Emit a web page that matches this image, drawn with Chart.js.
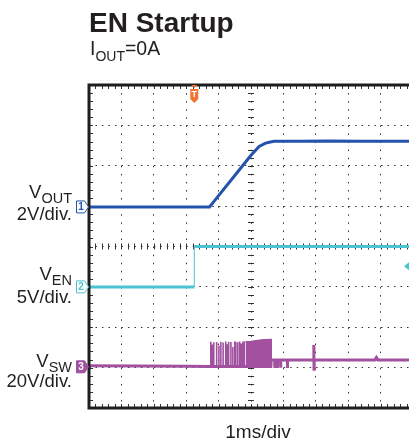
<!DOCTYPE html>
<html lang="en">
<head>
<meta charset="UTF-8">
<title>EN Startup</title>
<script src="https://cdn.jsdelivr.net/npm/chart.js"></script>
<style>
    body { margin: 0; width: 409px; height: 443px; overflow: hidden; position: relative; background: #fff;
           font-family: "Liberation Sans", Arial, Helvetica, sans-serif; color: #231f20; }
    #scope { position: absolute; left: 0; top: 0; }
    .txt { position: absolute; line-height: 1; white-space: nowrap; }
    .lbl { right: 337px; text-align: right; font-size: 18.5px; }
    .sub { position: relative; top: 4.5px; font-size: 14.5px; }
</style>
</head>
<body>

<canvas id="scope" width="416" height="443"></canvas>

<div class="txt" style="left:89px; top:8.8px; font-size:28px; font-weight:bold;">EN Startup</div>
<div class="txt" style="left:90px; top:39px; font-size:19.5px;">I<span class="sub" style="font-size:14px; top:5.5px;">OUT</span>=0A</div>

<div class="txt lbl" style="top:183.3px;">V<span class="sub">OUT</span></div>
<div class="txt lbl" style="top:205.3px;">2V/div.</div>
<div class="txt lbl" style="top:265.3px;">V<span class="sub">EN</span></div>
<div class="txt lbl" style="top:288.3px;">5V/div.</div>
<div class="txt lbl" style="top:352.3px;">V<span class="sub">SW</span></div>
<div class="txt lbl" style="top:372.3px;">20V/div.</div>

<div class="txt" style="left:158px; width:200px; text-align:center; top:422px; font-size:19px;">1ms/div</div>

<script>
    // screen: 10 div across (1 ms/div), 8 div high; y values below are in volts
    const triggerTime = 3.25;

    // channel 1: VOUT, 2 V/div
    const vOutOffset = 4.98;
    const vOutScale = 2;
    const vOutTime  = [0, 3.72, 4.0, 4.5, 5.0, 5.25, 5.45, 5.6, 5.72, 6.5, 7.4, 8.4, 10];
    const vOutVolts = [0, 0, 0.56, 1.56, 2.56, 3.0, 3.16, 3.22, 3.25, 3.25, 3.27, 3.25, 3.25];

    // channel 2: VEN, 5 V/div
    const vEnOffset = 3.0;
    const vEnScale = 5;
    const vEnTime  = [0, 3.25, 3.25, 10];
    const vEnVolts = [0, 0, 5, 5];
    const vEnTrigLevel = 2.55;

    // channel 3: VSW, 20 V/div
    const vSwOffset = 1.02;
    const vSwScale = 20;
    const vSwTime  = [0, 1.5, 3.0, 3.76, 5.65, 5.65, 5.73, 5.735, 5.74, 5.81, 5.815, 5.82, 5.91, 5.915, 5.92,
                      6.12, 6.125, 6.13, 6.93, 6.94, 6.945, 6.95, 8.82, 8.87, 8.92, 10];
    const vSwVolts = [0.5, 0.4, 0.3, 0.2, 0.2, 3.4, 3.4, -0.6, 3.4, 3.4, -0.6, 3.4, 3.4, -0.4, 3.4,
                      3.4, -0.6, 3.4, 3.4, 10.8, -1.2, 3.4, 3.4, 4.6, 3.4, 3.4];
    // first switching pulses, one by one
    const swPulseTime = [3.76, 3.81, 3.85, 3.94, 4.01, 4.07, 4.14, 4.22, 4.27, 4.31, 4.38, 4.44, 4.50, 4.53,
                         4.59, 4.65, 4.70, 4.75, 4.79];
    const swPulsePeak = [12.4, 11.0, 12.2, 12.3, 10.5, 12.4, 12.0, 12.5, 11.2, 12.4, 12.3, 9.8, 12.5, 12.4,
                         12.2, 12.5, 11.5, 12.6, 12.5];
    // dense switching: envelope of the burst
    const swBurstTime = [4.83, 5.0, 5.2, 5.4, 5.65];
    const swBurstPeak = [12.4, 12.6, 13.0, 13.4, 13.5];
    const swBurstFloor = -0.6;

    const trace = (times, volts, offset, scale) =>
        times.map((t, i) => ({ x: t, y: offset + volts[i] / scale }));

    const pulsePoints = [];
    swPulseTime.forEach((t, i) => {
        pulsePoints.push({ x: t, y: vSwOffset + swBurstFloor / vSwScale });
        pulsePoints.push({ x: t, y: vSwOffset + swPulsePeak[i] / vSwScale });
        pulsePoints.push({ x: t, y: null });
    });

    const blue = '#2353ad', cyan = '#4cc3d1', purple = '#a1519f', orange = '#f07433';

    const graticule = {
        id: 'graticule',
        beforeDatasetsDraw(chart) {
            const { ctx, chartArea: a, scales: { x, y } } = chart;
            const cx = x.getPixelForValue(5), cy = y.getPixelForValue(4);
            ctx.save();
            ctx.lineWidth = 1;
            ctx.strokeStyle = '#333';
            ctx.beginPath();
            for (let i = 0; i <= 50; i++) {
                const px = Math.round(x.getPixelForValue(i / 5)) + 0.5;
                ctx.moveTo(px, cy - 3); ctx.lineTo(px, cy + 3);
                ctx.moveTo(px, a.top); ctx.lineTo(px, a.top + 4);
                ctx.moveTo(px, a.bottom); ctx.lineTo(px, a.bottom - 4);
            }
            for (let j = 0; j <= 40; j++) {
                const py = Math.round(y.getPixelForValue(j / 5)) + 0.5;
                ctx.moveTo(cx - 3, py); ctx.lineTo(cx + 3, py);
                ctx.moveTo(a.left, py); ctx.lineTo(a.left + 4, py);
            }
            ctx.stroke();
            ctx.restore();
        },
        afterDraw(chart) {
            const { ctx, chartArea: a, scales: { x, y } } = chart;
            ctx.save();
            ctx.lineWidth = 3;
            ctx.strokeStyle = '#1e1e1e';
            ctx.strokeRect(a.left, a.top, a.right - a.left, a.bottom - a.top);

            // channel markers on the left
            const marker = (num, yv, color, filled) => {
                const py = y.getPixelForValue(yv);
                ctx.beginPath();
                ctx.moveTo(76.5, py - 6); ctx.lineTo(84.5, py - 6); ctx.lineTo(88.5, py);
                ctx.lineTo(84.5, py + 6); ctx.lineTo(76.5, py + 6); ctx.closePath();
                ctx.fillStyle = filled ? color : '#fff';
                ctx.fill();
                ctx.lineWidth = 1;
                ctx.strokeStyle = color;
                ctx.stroke();
                ctx.fillStyle = filled ? '#fff' : color;
                ctx.font = 'bold 10px "Liberation Sans", Arial';
                ctx.textAlign = 'center';
                ctx.textBaseline = 'middle';
                ctx.fillText(num, 81, py + 0.5);
            };
            marker('1', vOutOffset, blue, false);
            marker('2', vEnOffset, cyan, false);
            marker('3', vSwOffset, purple, true);

            // trigger position
            const tx = x.getPixelForValue(triggerTime);
            ctx.fillStyle = orange;
            ctx.beginPath();
            ctx.moveTo(tx - 3, a.top); ctx.lineTo(tx + 3, a.top); ctx.lineTo(tx, a.top + 3); ctx.closePath();
            ctx.fill();
            ctx.beginPath();
            ctx.moveTo(tx - 4, a.top + 4); ctx.lineTo(tx + 4, a.top + 4); ctx.lineTo(tx + 4, a.top + 14);
            ctx.lineTo(tx, a.top + 18); ctx.lineTo(tx - 4, a.top + 14); ctx.closePath();
            ctx.fill();
            ctx.fillStyle = '#fff';
            ctx.font = 'bold 9px "Liberation Sans", Arial';
            ctx.textAlign = 'center';
            ctx.textBaseline = 'middle';
            ctx.fillText('T', tx, a.top + 10);

            // trigger level, channel 2
            const ly = y.getPixelForValue(vEnOffset + vEnTrigLevel / vEnScale);
            ctx.fillStyle = cyan;
            ctx.beginPath();
            ctx.moveTo(404, ly); ctx.lineTo(409, ly - 4); ctx.lineTo(409, ly + 4); ctx.closePath();
            ctx.fill();
            ctx.restore();
        }
    };

    // fast edges are drawn thin, like on the scope screen
    const thinEdge = ctx => ctx.p0.parsed.x === ctx.p1.parsed.x ? 1 : undefined;

    new Chart(document.getElementById('scope'), {
        type: 'line',
        data: {
            datasets: [
                { label: 'VSW burst', data: trace(swBurstTime, swBurstPeak, vSwOffset, vSwScale),
                  borderColor: purple, backgroundColor: purple, borderWidth: 1.5,
                  fill: { value: vSwOffset + swBurstFloor / vSwScale } },
                { label: 'VSW pulses', data: pulsePoints, borderColor: purple, borderWidth: 1.6, spanGaps: false },
                { label: 'VSW', data: trace(vSwTime, vSwVolts, vSwOffset, vSwScale), borderColor: purple, borderWidth: 3,
                  segment: { borderWidth: thinEdge } },
                { label: 'VEN', data: trace(vEnTime, vEnVolts, vEnOffset, vEnScale), borderColor: cyan, borderWidth: 3,
                  segment: { borderWidth: thinEdge } },
                { label: 'VOUT', data: trace(vOutTime, vOutVolts, vOutOffset, vOutScale), borderColor: blue, borderWidth: 3 }
            ]
        },
        options: {
            responsive: false,
            animation: false,
            devicePixelRatio: 1,
            layout: { padding: { left: 89, top: 85, right: 3, bottom: 35 } },
            elements: { point: { radius: 0 }, line: { tension: 0 } },
            plugins: { legend: { display: false }, tooltip: { enabled: false } },
            scales: {
                x: {
                    type: 'linear', min: 0, max: 10,
                    ticks: { display: false, stepSize: 1 },
                    grid: { color: '#333', lineWidth: 1, drawTicks: false },
                    border: { display: false, dash: [1.5, 6.58] }
                },
                y: {
                    type: 'linear', min: 0, max: 8,
                    ticks: { display: false, stepSize: 1 },
                    grid: { color: '#333', lineWidth: 1, drawTicks: false },
                    border: { display: false, dash: [1.5, 4.99] }
                }
            }
        },
        plugins: [graticule]
    });
</script>

</body>
</html>
